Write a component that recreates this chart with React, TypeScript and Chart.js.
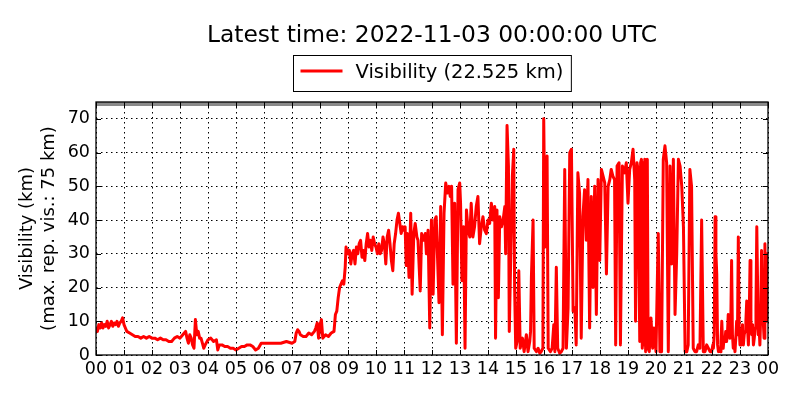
import React, { useEffect, useRef } from 'react';
import { Chart, registerables } from 'chart.js';

Chart.register(...registerables);

const titleText = 'Latest time: 2022-11-03 00:00:00 UTC';
const legendLabel = 'Visibility (22.525 km)';
const yTitleLines = ['Visibility (km)', '(max. rep. vis.: 75 km)'];
const maxReportedVisibility = 75;
const yTickValues = [0, 10, 20, 30, 40, 50, 60, 70];
const xTickValues = [0, 1, 2, 3, 4, 5, 6, 7, 8, 9, 10, 11, 12, 13, 14, 15, 16, 17, 18, 19, 20, 21, 22, 23, 24];
const xTickLabels = ['00', '01', '02', '03', '04', '05', '06', '07', '08', '09', '10', '11', '12', '13', '14', '15', '16', '17', '18', '19', '20', '21', '22', '23', '00'];

// hours since 00 UTC
const hours = [
  0.00, 0.05, 0.10, 0.15, 0.20, 0.25, 0.30, 0.35, 0.40, 0.45,
  0.50, 0.55, 0.60, 0.65, 0.70, 0.75, 0.80, 0.85, 0.90, 0.95,
  1.00, 1.05, 1.10, 1.20, 1.30, 1.40, 1.50, 1.60, 1.70, 1.80,
  1.90, 2.00, 2.10, 2.20, 2.30, 2.40, 2.50, 2.60, 2.70, 2.80,
  2.90, 3.00, 3.10, 3.20, 3.25, 3.30, 3.35, 3.40, 3.45, 3.50,
  3.55, 3.60, 3.65, 3.70, 3.75, 3.80, 3.85, 3.90, 4.00, 4.10,
  4.20, 4.30, 4.35, 4.40, 4.50, 4.60, 4.70, 4.80, 4.90, 5.00,
  5.10, 5.20, 5.30, 5.40, 5.50, 5.60, 5.70, 5.80, 5.90, 6.00,
  6.20, 6.40, 6.60, 6.80, 7.00, 7.10, 7.15, 7.20, 7.25, 7.30,
  7.40, 7.50, 7.60, 7.70, 7.80, 7.85, 7.90, 7.95, 8.00, 8.05,
  8.10, 8.20, 8.30, 8.40, 8.50, 8.55, 8.60, 8.65, 8.70, 8.75,
  8.80, 8.85, 8.90, 8.93, 9.00, 9.05, 9.10, 9.15, 9.20, 9.25,
  9.30, 9.35, 9.40, 9.45, 9.50, 9.55, 9.60, 9.65, 9.70, 9.75,
  9.80, 9.85, 9.90, 9.95, 10.00, 10.05, 10.10, 10.15, 10.20, 10.25,
  10.30, 10.35, 10.40, 10.45, 10.50, 10.55, 10.60, 10.65, 10.70, 10.75,
  10.80, 10.85, 10.90, 10.95, 11.00, 11.04, 11.08, 11.12, 11.18, 11.24,
  11.29, 11.35, 11.40, 11.46, 11.50, 11.58, 11.63, 11.70, 11.76, 11.80,
  11.86, 11.92, 11.98, 12.04, 12.10, 12.15, 12.25, 12.31, 12.37, 12.43,
  12.49, 12.55, 12.61, 12.65, 12.70, 12.75, 12.81, 12.87, 12.93, 12.99,
  13.02, 13.07, 13.13, 13.18, 13.23, 13.29, 13.35, 13.40, 13.46, 13.52,
  13.58, 13.64, 13.70, 13.76, 13.82, 13.88, 13.94, 14.00, 14.06, 14.12,
  14.18, 14.24, 14.27, 14.32, 14.37, 14.42, 14.48, 14.54, 14.60, 14.63,
  14.68, 14.73, 14.76, 14.81, 14.87, 14.92, 14.95, 14.99, 15.04, 15.10,
  15.15, 15.23, 15.29, 15.37, 15.43, 15.49, 15.52, 15.55, 15.61, 15.65,
  15.73, 15.79, 15.85, 15.90, 15.96, 15.99, 16.04, 16.11, 16.15, 16.23,
  16.29, 16.35, 16.39, 16.44, 16.49, 16.56, 16.62, 16.68, 16.74, 16.80,
  16.86, 16.92, 16.98, 17.04, 17.10, 17.15, 17.21, 17.27, 17.33, 17.39,
  17.45, 17.51, 17.57, 17.63, 17.69, 17.75, 17.81, 17.87, 17.93, 17.99,
  18.05, 18.11, 18.17, 18.23, 18.29, 18.35, 18.40, 18.46, 18.52, 18.56,
  18.61, 18.68, 18.73, 18.80, 18.88, 18.94, 19.00, 19.06, 19.12, 19.18,
  19.24, 19.27, 19.32, 19.36, 19.42, 19.45, 19.48, 19.51, 19.54, 19.57,
  19.60, 19.63, 19.66, 19.69, 19.72, 19.76, 19.82, 19.88, 19.93, 20.00,
  20.08, 20.14, 20.20, 20.26, 20.32, 20.38, 20.44, 20.50, 20.56, 20.62,
  20.68, 20.74, 20.80, 20.86, 20.92, 20.98, 21.04, 21.10, 21.15, 21.21,
  21.27, 21.33, 21.39, 21.45, 21.51, 21.57, 21.63, 21.69, 21.75, 21.81,
  21.87, 21.93, 21.99, 22.03, 22.05, 22.08, 22.11, 22.14, 22.17, 22.20,
  22.23, 22.26, 22.29, 22.32, 22.35, 22.38, 22.40, 22.43, 22.46, 22.49,
  22.52, 22.55, 22.58, 22.61, 22.64, 22.67, 22.70, 22.73, 22.76, 22.79,
  22.82, 22.85, 22.88, 22.91, 22.94, 22.97, 23.00, 23.03, 23.06, 23.09,
  23.12, 23.15, 23.18, 23.21, 23.24, 23.27, 23.30, 23.33, 23.36, 23.39,
  23.42, 23.45, 23.48, 23.51, 23.54, 23.57, 23.60, 23.63, 23.65, 23.68,
  23.71, 23.74, 23.77, 23.80, 23.83, 23.86, 23.89, 23.92, 23.95, 23.98,
  24.00,
];

// visibility in km, same order as hours
const visibilityKm = [
  8, 7, 9, 8, 9.5, 8, 9, 8.5, 10, 8,
  9, 10, 8.5, 9.5, 9, 10, 8.5, 9.5, 10, 11,
  9, 8, 7, 6.5, 6, 5.5, 5.5, 5, 5.5, 5,
  5.5, 5, 5, 4.5, 5, 4.5, 4.5, 4, 4, 5,
  5.5, 5, 6, 7, 5, 3.5, 6, 5, 3, 2,
  10.5, 6, 7, 5, 5, 3.5, 2, 3, 4.5, 5,
  4, 4.5, 1.5, 3, 3, 2.5, 2.5, 2, 2, 1.5,
  2, 2.5, 2.5, 3, 3, 2.5, 1.5, 2, 3.5, 3.5,
  3.5, 3.5, 3.5, 4, 3.5, 4, 6.5, 7.5, 7, 6,
  5.5, 5.5, 6.5, 6, 7, 8, 9.5, 5, 9, 10.5,
  5, 6, 5.5, 6.5, 7, 12, 13, 17, 20, 21,
  22, 21, 26, 32, 30, 31, 27, 30, 31, 27,
  32, 30, 33, 34, 29, 31, 28, 33, 36, 32,
  34, 31, 35, 33, 32, 30, 33, 30, 31, 35,
  33, 27, 35, 37, 33, 28, 25, 33, 36, 40,
  42, 39, 36, 38, 37, 38, 26.5, 36, 23, 42,
  18, 36, 39, 35, 34, 19, 36, 34, 36, 30,
  37, 8, 40, 18, 40, 41, 15.5, 44, 6, 42,
  51, 48, 50, 47, 50, 21, 45, 3.5, 49, 51,
  45, 22, 38, 2, 43, 37, 35, 45, 35, 38,
  44, 47, 33, 38, 41, 37, 36, 40, 39, 45,
  40, 44, 5, 43, 17, 41, 38, 40, 44, 30,
  68, 56, 7, 28, 53, 61, 20, 2, 4, 25,
  2, 5, 1, 6, 1, 4, 7, 23, 40, 2,
  1, 2, 0.5, 1, 2, 70, 32, 59, 2, 1,
  2, 9, 1, 26, 2, 0.5, 1, 2, 55, 2,
  14, 60, 61, 13, 14, 3, 54, 48, 5, 41,
  49, 34, 52, 8, 47, 20, 50, 12, 52, 28,
  55, 53, 51, 24, 50, 52, 55, 53, 52, 3,
  56, 57, 3, 56, 54, 57, 45, 55, 57, 61,
  52, 10, 57, 55, 4, 57, 58, 2, 57, 3,
  58, 1, 57, 58, 2, 1, 11, 2, 8, 1,
  36, 1, 1, 58, 62, 57, 1, 56, 27, 58,
  12, 30, 58, 56, 50, 38, 1, 1, 3, 55,
  50, 2, 1, 1, 3, 2, 40, 1, 1, 3,
  2, 1, 1, 3, 2, 6, 41, 30, 24, 3,
  1, 2, 1, 4, 10, 3, 2, 5, 4, 7,
  4, 6, 12, 8, 5, 9, 28, 6, 2, 4,
  1, 5, 10, 6, 35, 8, 3, 7, 5, 9,
  3, 6, 7, 10, 16, 8, 3, 12, 28, 10,
  6, 9, 3, 5, 8, 14, 38, 20, 6, 9,
  3, 12, 31, 18, 10, 5, 33, 15, 10, 30,
  22.5,
];

const FONT = '"DejaVu Sans", "Liberation Sans", sans-serif';

const decorPlugin = {
  id: 'decor',
  afterDatasetsDraw(chart: any) {
    const { ctx, chartArea: a, scales } = chart;
    const xs = scales.x;
    const ys = scales.y;
    // max reported visibility line (grey, clipped to plot area)
    ctx.save();
    ctx.beginPath();
    ctx.rect(a.left, a.top, a.right - a.left, a.bottom - a.top);
    ctx.clip();
    const yMax = ys.getPixelForValue(maxReportedVisibility);
    ctx.strokeStyle = '#8a8a8a';
    ctx.lineWidth = 8;
    ctx.beginPath();
    ctx.moveTo(a.left, yMax);
    ctx.lineTo(a.right, yMax);
    ctx.stroke();
    ctx.restore();

    // axes frame
    ctx.save();
    ctx.strokeStyle = '#000';
    ctx.lineWidth = 1.3;
    ctx.strokeRect(a.left, a.top, a.right - a.left, a.bottom - a.top);
    // inward ticks
    ctx.lineWidth = 1;
    const tl = 5;
    ctx.beginPath();
    xs.ticks.forEach((t: any) => {
      const px = Math.round(xs.getPixelForValue(t.value)) + 0.5;
      ctx.moveTo(px, a.bottom);
      ctx.lineTo(px, a.bottom - tl);
      ctx.moveTo(px, a.top);
      ctx.lineTo(px, a.top + tl);
    });
    ys.ticks.forEach((t: any) => {
      const py = Math.round(ys.getPixelForValue(t.value)) + 0.5;
      ctx.moveTo(a.left, py);
      ctx.lineTo(a.left + tl, py);
      ctx.moveTo(a.right, py);
      ctx.lineTo(a.right - tl, py);
    });
    ctx.stroke();
    ctx.restore();
  },
  afterDraw(chart: any) {
    const { ctx, chartArea: a } = chart;
    const cx = (a.left + a.right) / 2;
    ctx.save();
    // title
    ctx.fillStyle = '#000';
    ctx.font = `23.4px ${FONT}`;
    ctx.textAlign = 'center';
    ctx.textBaseline = 'alphabetic';
    ctx.fillText(titleText, cx, 42);

    // legend
    ctx.font = `19.5px ${FONT}`;
    const tw = ctx.measureText(legendLabel).width;
    const padL = 7, lineLen = 42, gap = 13, padR = 8;
    const boxW = padL + lineLen + gap + tw + padR;
    const left = Math.round(cx - boxW / 2) + 0.5;
    const top = 55.5;
    const boxH = 36;
    ctx.fillStyle = '#fff';
    ctx.fillRect(left, top, boxW, boxH);
    ctx.strokeStyle = '#000';
    ctx.lineWidth = 1;
    ctx.strokeRect(left, top, boxW, boxH);
    ctx.strokeStyle = '#ff0000';
    ctx.lineWidth = 3;
    ctx.beginPath();
    ctx.moveTo(left + padL, 71);
    ctx.lineTo(left + padL + lineLen, 71);
    ctx.stroke();
    ctx.fillStyle = '#000';
    ctx.textAlign = 'left';
    ctx.fillText(legendLabel, left + padL + lineLen + gap, 78);
    ctx.restore();
  },
};

export default function App() {
  const ref = useRef<HTMLCanvasElement>(null);
  useEffect(() => {
    const canvas = ref.current;
    if (!canvas) return;
    const chart = new Chart(canvas, {
      type: 'line',
      data: {
        datasets: [
          {
            label: legendLabel,
            data: hours.map((h, i) => ({ x: h, y: visibilityKm[i] })),
            borderColor: '#ff0000',
            backgroundColor: '#ff0000',
            borderWidth: 3,
            pointRadius: 0,
            tension: 0,
            fill: false,
            borderJoinStyle: 'round',
            borderCapStyle: 'round',
          },
        ],
      },
      options: {
        responsive: false,
        animation: false,
        layout: { padding: { top: 102, right: 32, bottom: 0, left: 0 } },
        plugins: {
          legend: { display: false },
          title: { display: false },
          tooltip: { enabled: false },
        },
        scales: {
          x: {
            type: 'linear',
            min: 0,
            max: 24,
            afterBuildTicks: (s: any) => {
              s.ticks = xTickValues.map((v) => ({ value: v }));
            },
            afterFit: (s: any) => {
              s.height = 45;
            },
            grid: { color: '#000', lineWidth: 1, drawTicks: false },
            border: { display: false, dash: [1.5, 3.5] },
            ticks: {
              autoSkip: false,
              maxRotation: 0,
              minRotation: 0,
              padding: 4,
              color: '#000',
              font: { family: FONT, size: 17.5 },
              callback: (_v: any, i: number) => xTickLabels[i],
            },
          },
          y: {
            type: 'linear',
            min: 0,
            max: maxReportedVisibility,
            afterBuildTicks: (s: any) => {
              s.ticks = yTickValues.map((v) => ({ value: v }));
            },
            afterFit: (s: any) => {
              s.width = 96;
            },
            grid: { color: '#000', lineWidth: 1, drawTicks: false },
            border: { display: false, dash: [1.5, 3.5] },
            ticks: {
              padding: 6,
              color: '#000',
              font: { family: FONT, size: 17.5 },
              callback: (v: any) => String(v),
            },
            title: {
              display: true,
              text: yTitleLines,
              color: '#000',
              font: { family: FONT, size: 18, lineHeight: 1.22 },
              padding: { top: 16, bottom: 0 },
            },
          },
        },
      },
      plugins: [decorPlugin],
    } as any);
    return () => chart.destroy();
  }, []);
  return (
    <div style={{ position: 'absolute', left: 0, top: 0, width: 800, height: 400, background: '#fff' }}>
      <canvas ref={ref} width={800} height={400} style={{ display: 'block', width: 800, height: 400 }} />
    </div>
  );
}
